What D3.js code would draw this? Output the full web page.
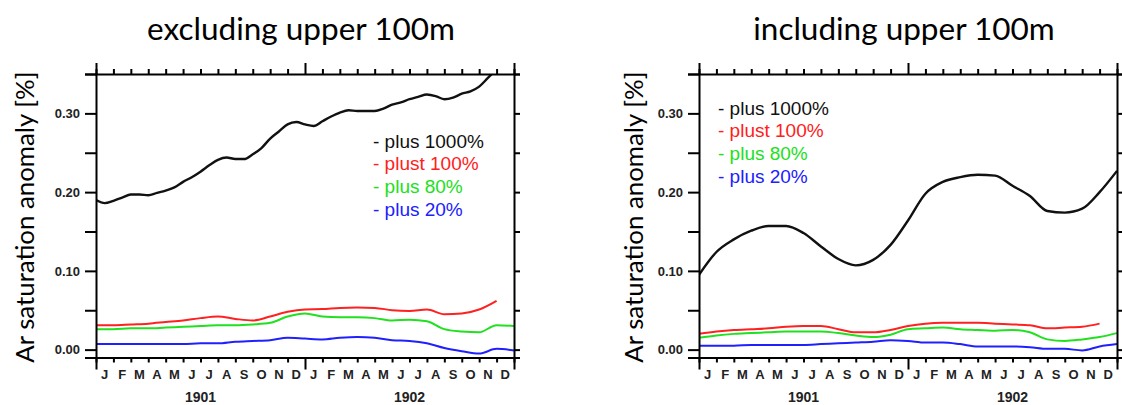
<!DOCTYPE html>
<html>
<head>
<meta charset="utf-8">
<script src="https://cdn.jsdelivr.net/npm/d3@7.9.0/dist/d3.min.js"></script>
<style>
  html, body { margin: 0; padding: 0; background: #fff; }
  svg { display: block; }
</style>
</head>
<body>
<svg id="chart" width="1122" height="405"></svg>
<script>
// Month / year labels
const monthLabels = ['J','F','M','A','M','J','J','A','S','O','N','D'];
const years = ['1901', '1902'];
const yTicks = [0, 0.05, 0.10, 0.15, 0.20, 0.25, 0.30, 0.35];

// Legend entries
const legendNames = ['- plus 1000%', '- plust 100%', '- plus 80%', '- plus 20%'];
const colors = ['#111111', '#ff2020', '#20e020', '#2020ff'];

// Excluding upper 100m (black: every half month, others: every month from Jan 1901)
const exclBlack = [0.190, 0.186, 0.189, 0.193, 0.197, 0.197, 0.196, 0.199, 0.202, 0.206,
  0.213, 0.219, 0.226, 0.234, 0.241, 0.244, 0.242, 0.242, 0.248, 0.256,
  0.268, 0.277, 0.286, 0.289, 0.286, 0.284, 0.290, 0.296, 0.301, 0.304,
  0.303, 0.303, 0.303, 0.306, 0.311, 0.314, 0.318, 0.321, 0.324, 0.322,
  0.318, 0.320, 0.325, 0.328, 0.334, 0.345, 0.356];
const exclRed = [0.031, 0.031, 0.032, 0.033, 0.035, 0.037, 0.040, 0.042, 0.039, 0.037,
  0.042, 0.048, 0.051, 0.0515, 0.053, 0.0535, 0.053, 0.050, 0.049, 0.051,
  0.045, 0.046, 0.051, 0.062];
const exclGreen = [0.026, 0.026, 0.027, 0.027, 0.028, 0.029, 0.030, 0.031, 0.031, 0.032,
  0.034, 0.042, 0.046, 0.042, 0.041, 0.041, 0.040, 0.037, 0.038, 0.036,
  0.026, 0.023, 0.022, 0.031, 0.030];
const exclBlue = [0.007, 0.007, 0.007, 0.007, 0.007, 0.007, 0.008, 0.008, 0.010, 0.011,
  0.012, 0.015, 0.014, 0.013, 0.015, 0.016, 0.015, 0.012, 0.011, 0.008,
  0.002, -0.002, -0.005, 0.001, -0.001];

// Including upper 100m (every month from Jan 1901)
const inclBlack = [0.095, 0.124, 0.140, 0.151, 0.157, 0.157, 0.148, 0.131, 0.115, 0.107,
  0.114, 0.133, 0.164, 0.198, 0.213, 0.219, 0.222, 0.221, 0.208, 0.195,
  0.176, 0.174, 0.179, 0.200, 0.227];
const inclRed = [0.020, 0.023, 0.025, 0.026, 0.027, 0.029, 0.030, 0.030, 0.026, 0.022,
  0.022, 0.025, 0.030, 0.033, 0.034, 0.034, 0.034, 0.033, 0.032, 0.031,
  0.027, 0.028, 0.029, 0.033];
const inclGreen = [0.015, 0.018, 0.020, 0.021, 0.022, 0.023, 0.023, 0.023, 0.021, 0.018,
  0.016, 0.019, 0.026, 0.027, 0.028, 0.026, 0.025, 0.024, 0.025, 0.022,
  0.013, 0.011, 0.013, 0.016, 0.021];
const inclBlue = [0.005, 0.005, 0.005, 0.006, 0.006, 0.006, 0.006, 0.007, 0.008, 0.009,
  0.010, 0.012, 0.011, 0.009, 0.009, 0.007, 0.004, 0.004, 0.004, 0.003,
  0.001, 0.001, -0.001, 0.004, 0.007];

const svg = d3.select('#chart');
const tickFont = '"Liberation Sans", Arial, sans-serif';
const titleFont = 'Lato, "Open Sans", sans-serif';

function drawPanel(cfg) {
  const x = d3.scaleLinear().domain([0, 24]).range([cfg.left, cfg.left + 418]);
  const y = d3.scaleLinear().domain([-0.01, 0.35]).range([357.5, 74]);
  const g = svg.append('g');

  // title
  svg.append('text')
    .attr('x', (x.range()[0] + x.range()[1]) / 2 - 4)
    .attr('y', 40)
    .attr('text-anchor', 'middle')
    .style('font-family', titleFont)
    .style('font-size', '31.5px')
    .text(cfg.title);

  // y axis title
  svg.append('text')
    .attr('transform', `translate(${cfg.ytitleX},217) rotate(-90)`)
    .attr('text-anchor', 'middle')
    .attr('dy', '0.35em')
    .style('font-family', titleFont)
    .style('font-size', '25.8px')
    .text('Ar saturation anomaly [%]');

  // lines
  const clipId = 'clip' + cfg.left;
  svg.append('clipPath').attr('id', clipId)
    .append('rect')
    .attr('x', x(0)).attr('y', y(0.35))
    .attr('width', x(24) - x(0)).attr('height', y(-0.01) - y(0.35));

  const line = d3.line()
    .x(d => x(d.t))
    .y(d => y(d.v))
    .curve(d3.curveMonotoneX);

  cfg.series.forEach((s, i) => {
    const pts = s.values.map((v, k) => ({ t: k * s.step, v }));
    g.append('path')
      .datum(pts)
      .attr('clip-path', `url(#${clipId})`)
      .attr('fill', 'none')
      .attr('stroke', colors[i])
      .attr('stroke-width', i === 0 ? 2.4 : 2)
      .attr('stroke-linejoin', 'round')
      .attr('d', line);
  });

  // axes
  const fmt = d => (Math.abs(d * 100 % 10) < 1e-6 ? d.toFixed(2) : '');
  const yl = g.append('g')
    .attr('transform', `translate(${x(0)},0)`)
    .call(d3.axisLeft(y).tickValues(yTicks).tickFormat(fmt).tickSize(11).tickPadding(5));
  g.append('g')
    .attr('transform', `translate(${x(24)},0)`)
    .call(d3.axisRight(y).tickValues(yTicks).tickFormat('').tickSize(6));

  const monthTicks = d3.range(0, 25);
  const xb = g.append('g')
    .attr('transform', `translate(0,${y(-0.01)})`)
    .call(d3.axisBottom(x).tickValues(monthTicks).tickFormat('').tickSizeOuter(0)
      .tickSize(5));
  const xt = g.append('g')
    .attr('transform', `translate(0,${y(0.35)})`)
    .call(d3.axisTop(x).tickValues(monthTicks).tickFormat('').tickSizeOuter(0)
      .tickSize(5));
  // longer ticks at year boundaries
  [xb, xt].forEach((ax, j) => {
    ax.selectAll('.tick line')
      .attr('y2', d => (d % 12 === 0 ? (j ? -11 : 12) : (j ? -5 : 5)));
  });

  g.selectAll('.domain').attr('stroke', '#000').attr('stroke-width', 2);
  g.selectAll('.tick line').attr('stroke', '#000').attr('stroke-width', 2);
  yl.selectAll('.tick text')
    .style('font-family', tickFont)
    .style('font-size', '13px')
    .style('font-weight', 'bold')
    .attr('fill', '#222');

  // month labels
  g.selectAll('.month')
    .data(d3.range(24))
    .join('text')
    .attr('x', d => x(d + 0.5))
    .attr('y', 379)
    .attr('text-anchor', 'middle')
    .style('font-family', tickFont)
    .style('font-size', '13px')
    .style('font-weight', 'bold')
    .attr('fill', '#222')
    .text(d => monthLabels[d % 12]);

  g.selectAll('.year')
    .data(years)
    .join('text')
    .attr('x', (d, i) => x(6 + i * 12))
    .attr('y', 402)
    .attr('text-anchor', 'middle')
    .style('font-family', tickFont)
    .style('font-size', '14px')
    .style('font-weight', 'bold')
    .attr('fill', '#222')
    .text(d => d);

  // legend
  g.selectAll('.legend')
    .data(legendNames)
    .join('text')
    .attr('x', cfg.legendX)
    .attr('y', (d, i) => cfg.legendY + i * 22.8)
    .attr('dy', '0.35em')
    .style('font-family', tickFont)
    .style('font-size', '19px')
    .attr('fill', (d, i) => colors[i])
    .text(d => d);
}

drawPanel({
  left: 96,
  title: 'excluding upper 100m',
  ytitleX: 25,
  legendX: 373,
  legendY: 141,
  series: [
    { values: exclBlack, step: 0.5 },
    { values: exclRed, step: 1 },
    { values: exclGreen, step: 1 },
    { values: exclBlue, step: 1 }
  ]
});

drawPanel({
  left: 699,
  title: 'including upper 100m',
  ytitleX: 634,
  legendX: 718,
  legendY: 108,
  series: [
    { values: inclBlack, step: 1 },
    { values: inclRed, step: 1 },
    { values: inclGreen, step: 1 },
    { values: inclBlue, step: 1 }
  ]
});
</script>
</body>
</html>
